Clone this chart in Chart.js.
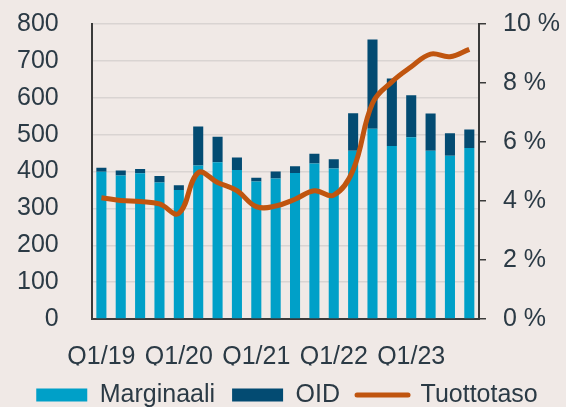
<!DOCTYPE html>
<html>
<head>
<meta charset="utf-8">
<script src="https://cdn.jsdelivr.net/npm/chart.js@4"></script>
<style>
  html, body { margin: 0; padding: 0; background: #f0e9e6; }
  #wrap { width: 566px; height: 407px; }
</style>
</head>
<body>
<div id="wrap"><canvas id="myChart"></canvas></div>
<script>
const quarters = [
  "Q1/19", "Q2/19", "Q3/19", "Q4/19",
  "Q1/20", "Q2/20", "Q3/20", "Q4/20",
  "Q1/21", "Q2/21", "Q3/21", "Q4/21",
  "Q1/22", "Q2/22", "Q3/22", "Q4/22",
  "Q1/23", "Q2/23", "Q3/23", "Q4/23"
];
const xTickLabels = ["Q1/19", "Q1/20", "Q1/21", "Q1/22", "Q1/23"];

const marginaali = [399, 389, 395, 370, 350, 416, 425, 404, 373, 381, 396, 422, 408, 456, 516, 469, 493, 456, 443, 464];
const oid = [11, 14, 12, 18, 13, 106, 69, 34, 10, 19, 18, 26, 25, 102, 242, 183, 114, 101, 61, 50];
const tuottotaso = [4.11, 4.02, 3.98, 3.9, 3.58, 4.96, 4.63, 4.35, 3.81, 3.83, 4.06, 4.35, 4.2, 5.05, 7.31, 8.04, 8.55, 8.98, 8.89, 9.14];

const leftTicks = [0, 100, 200, 300, 400, 500, 600, 700, 800];
const rightTicks = [0, 2, 4, 6, 8, 10];

const textColor = "#2b3a45";
const font = { family: "'Liberation Sans', Arial, sans-serif", size: 25 };

// keep the plot area where the picture has it
const noVertPadding = (axis) => {
  axis.paddingTop = 0;
  axis.paddingBottom = 0;
};

const ctx = document.getElementById("myChart");

const myChart = new Chart(ctx, {
  data: {
    labels: quarters,
    datasets: [
      {
        type: "bar",
        label: "Marginaali",
        data: marginaali,
        backgroundColor: "#00a0c8",
        stack: "s",
        yAxisID: "y",
        order: 2,
        categoryPercentage: 0.52,
        barPercentage: 1,
      },
      {
        type: "bar",
        label: "OID",
        data: oid,
        backgroundColor: "#034b72",
        stack: "s",
        yAxisID: "y",
        order: 2,
        categoryPercentage: 0.52,
        barPercentage: 1,
      },
      {
        type: "line",
        label: "Tuottotaso",
        data: tuottotaso,
        borderColor: "#c0550f",
        borderWidth: 5,
        pointRadius: 0,
        tension: 0.4,
        yAxisID: "y1",
        order: 0,
      },
    ],
  },
  options: {
    responsive: true,
    maintainAspectRatio: false,
    animation: false,
    layout: { padding: { top: 24, left: 14, right: 6, bottom: -10.5 } },
    plugins: {
      tooltip: { enabled: false },
      legend: {
        position: "bottom",
        labels: {
          color: textColor,
          font: font,
          usePointStyle: true,
          pointStyleWidth: 51,
          boxHeight: 13,
          padding: 17,
          generateLabels: (chart) =>
            chart.data.datasets.map((ds, i) => ({
              text: ds.label,
              fillStyle: ds.type === "line" ? ds.borderColor : ds.backgroundColor,
              strokeStyle: ds.type === "line" ? ds.borderColor : ds.backgroundColor,
              lineWidth: ds.type === "line" ? 5 : 0,
              lineCap: "round",
              pointStyle: ds.type === "line" ? "line" : "rect",
              fontColor: textColor,
              datasetIndex: i,
              hidden: false,
            })),
        },
      },
    },
    scales: {
      x: {
        stacked: true,
        grid: { display: false, drawTicks: false },
        border: { color: "#3a3a3a", width: 2 },
        afterFit: (axis) => { axis.height = 46.5; },
        ticks: {
          color: textColor,
          font: font,
          padding: 23,
          maxRotation: 0,
          autoSkip: false,
          callback: (v, i) => (xTickLabels.includes(quarters[i]) ? quarters[i] : ""),
        },
      },
      y: {
        stacked: true,
        position: "left",
        min: 0,
        max: 800,
        afterBuildTicks: (axis) => {
          axis.ticks = leftTicks.map((v) => ({ value: v }));
        },
        afterFit: (axis) => { axis.width = 77.7; noVertPadding(axis); },
        grid: { color: "#d9d4d2", lineWidth: 1.5, drawTicks: false },
        border: { color: "#3a3a3a", width: 2 },
        ticks: { color: textColor, font: font, padding: 33, autoSkip: false },
      },
      y1: {
        position: "right",
        min: 0,
        max: 10,
        afterBuildTicks: (axis) => {
          axis.ticks = rightTicks.map((v) => ({ value: v }));
        },
        afterFit: (axis) => { axis.width = 81; noVertPadding(axis); },
        grid: { drawOnChartArea: false, color: "#3a3a3a", tickLength: 7, lineWidth: 1.5 },
        border: { color: "#3a3a3a", width: 2 },
        ticks: { color: textColor, font: font, padding: 17, autoSkip: false, callback: (v) => v + " %" },
      },
    },
  },
});
</script>
</body>
</html>
